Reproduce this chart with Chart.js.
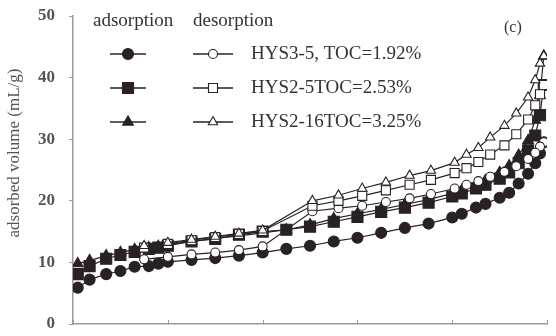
<!DOCTYPE html>
<html>
<head>
<meta charset="utf-8">
<script src="https://cdn.jsdelivr.net/npm/chart.js@4/dist/chart.umd.min.js"></script>
<style>
  html, body { margin: 0; padding: 0; background: #fff; }
</style>
</head>
<body>
<canvas id="isoChart" width="556" height="336"></canvas>
<script>
// relative pressure points (P/P0)
const adsP = [0.01, 0.035, 0.07, 0.10, 0.13, 0.16, 0.18, 0.20, 0.25, 0.30, 0.35, 0.40, 0.45, 0.50, 0.55,
              0.60, 0.65, 0.70, 0.75, 0.80, 0.82, 0.85, 0.87, 0.90, 0.92, 0.94, 0.96, 0.975, 0.985, 0.993];
const desP = [0.993, 0.985, 0.975, 0.96, 0.935, 0.91, 0.88, 0.855, 0.83, 0.805, 0.755, 0.71, 0.66, 0.61,
              0.56, 0.505, 0.40, 0.35, 0.30, 0.25, 0.20, 0.15];

// adsorbed volume (mL/g)
const adsHYS35 = [5.9, 7.2, 8.1, 8.6, 9.3, 9.4, 9.8, 10.1, 10.4, 10.7, 11.1, 11.6, 12.2, 12.7, 13.4,
                  14.0, 14.8, 15.6, 16.3, 17.3, 17.9, 18.9, 19.5, 20.5, 21.3, 22.8, 24.4, 26.1, 27.7, 29.5];
const adsHYS25 = [8.1, 9.4, 10.6, 11.2, 11.7, 12.2, 12.4, 12.7, 13.4, 13.8, 14.5, 15.0, 15.3, 15.8, 16.6,
                  17.4, 18.2, 18.9, 19.7, 20.7, 21.2, 22.0, 22.6, 23.6, 24.6, 26.1, 28.2, 30.6, 33.9, 38.8];
const adsHYS216 = [9.8, 10.3, 11.1, 11.6, 12.1, 12.4, 12.6, 12.9, 13.4, 13.9, 14.3, 14.8, 15.3, 16.1, 17.1,
                   17.9, 18.6, 19.4, 20.2, 21.2, 21.7, 22.6, 23.3, 24.6, 25.7, 27.4, 29.8, 33.1, 37.1, 43.5];

const desHYS35 = [29.5, 28.8, 27.8, 26.8, 25.6, 24.7, 23.9, 23.2, 22.6, 22.0, 21.1, 20.4, 19.8, 19.2,
                  18.8, 18.3, 12.6, 12.0, 11.6, 11.3, 10.9, 10.5];
const desHYS25 = [38.8, 37.3, 35.5, 33.2, 30.8, 29.0, 27.5, 26.3, 25.3, 24.5, 23.4, 22.6, 21.7, 20.8,
                  20.0, 19.2, 15.1, 14.6, 14.1, 13.6, 13.0, 12.4];
const desHYS216 = [43.5, 42.3, 39.6, 36.8, 34.2, 32.2, 30.3, 28.6, 27.5, 26.2, 24.9, 24.1, 23.0, 22.0,
                   20.9, 20.0, 15.2, 14.7, 14.2, 13.7, 13.2, 12.7];

const seriesNames = ['HYS3-5, TOC=1.92%', 'HYS2-5TOC=2.53%', 'HYS2-16TOC=3.25%'];
const yTicks = [0, 10, 20, 30, 40, 50];
const xTicks = [0, 0.2, 0.4, 0.6, 0.8, 1.0];
const yTitle = 'adsorbed volume (mL/g)';

const ink = '#2a2222';
const serif = '"Liberation Serif", "Times New Roman", serif';

// wanted plot box
const target = { left: 73, top: 16, right: 549, bottom: 324 };
let xAxisH = 12;
let yAxisW = 73;

function pts(xs, ys) {
    return xs.map((x, i) => ({ x: x, y: ys[i] }));
}

// marker styles: [style, filled radius, open radius]
const marks = [
    ['circle', 5.5, 4.5],
    ['rect', 7.8, 6.4],
    ['triangle', 6.2, 5.4]
];

function makeSet(label, data, mk, filled) {
    return {
        label: label,
        data: data,
        borderColor: ink,
        borderWidth: 1.2,
        pointStyle: mk[0],
        pointRadius: filled ? mk[1] : mk[2],
        pointBorderWidth: 1.1,
        pointBorderColor: ink,
        pointBackgroundColor: filled ? ink : '#ffffff',
        pointHoverRadius: filled ? mk[1] : mk[2],
        tension: 0,
        fill: false
    };
}

const datasets = [
    makeSet(seriesNames[2] + ' des', pts(desP, desHYS216), marks[2], false),
    makeSet(seriesNames[1] + ' des', pts(desP, desHYS25), marks[1], false),
    makeSet(seriesNames[0] + ' des', pts(desP, desHYS35), marks[0], false),
    makeSet(seriesNames[0] + ' ads', pts(adsP, adsHYS35), marks[0], true),
    makeSet(seriesNames[1] + ' ads', pts(adsP, adsHYS25), marks[1], true),
    makeSet(seriesNames[2] + ' ads', pts(adsP, adsHYS216), marks[2], true)
];

function drawMark(ctx, style, r, x, y, filled) {
    ctx.beginPath();
    if (style === 'circle') {
        ctx.arc(x, y, r, 0, Math.PI * 2);
    } else if (style === 'rect') {
        const s = r * Math.SQRT1_2;
        ctx.rect(x - s, y - s, 2 * s, 2 * s);
    } else {
        ctx.moveTo(x, y - r);
        ctx.lineTo(x + r * 0.866, y + r * 0.5);
        ctx.lineTo(x - r * 0.866, y + r * 0.5);
        ctx.closePath();
    }
    ctx.fillStyle = filled ? ink : '#fff';
    ctx.fill();
    ctx.lineWidth = 1.1;
    ctx.strokeStyle = ink;
    ctx.stroke();
}

const legendPlugin = {
    id: 'isoLegend',
    afterDraw(chart) {
        const ctx = chart.ctx;
        const xs = chart.scales.x;
        ctx.save();

        // x tick marks point up into the plot
        ctx.strokeStyle = '#999';
        ctx.lineWidth = 1;
        ctx.beginPath();
        xTicks.forEach(v => {
            const px = Math.round(xs.getPixelForValue(v)) + 0.5;
            ctx.moveTo(px, xs.top);
            ctx.lineTo(px, xs.top - 4);
        });
        ctx.stroke();

        ctx.fillStyle = '#333';
        ctx.textBaseline = 'middle';
        ctx.font = '19px ' + serif;
        ctx.fillText('adsorption', 93, 21);
        ctx.fillText('desorption', 193, 21);
        ctx.font = '16px ' + serif;
        ctx.fillText('(c)', 504, 28);

        const rowY = [54, 88, 122];
        for (let i = 0; i < 3; i++) {
            const y = rowY[i];
            ctx.strokeStyle = ink;
            ctx.lineWidth = 1.3;
            ctx.beginPath();
            ctx.moveTo(110, y); ctx.lineTo(146, y);
            ctx.moveTo(193, y); ctx.lineTo(233, y);
            ctx.stroke();
            drawMark(ctx, marks[i][0], marks[i][1], 128, y, true);
            drawMark(ctx, marks[i][0], marks[i][2], 213, y, false);
            ctx.fillStyle = '#333';
            ctx.font = '19px ' + serif;
            ctx.fillText(seriesNames[i], 251, y);
        }

        // y axis title
        ctx.translate(15, 153);
        ctx.rotate(-Math.PI / 2);
        ctx.textAlign = 'center';
        ctx.fillStyle = '#555';
        ctx.font = '17px ' + serif;
        ctx.fillText(yTitle, 0, 0);
        ctx.restore();
    }
};

const chart = new Chart(document.getElementById('isoChart').getContext('2d'), {
    type: 'line',
    data: { datasets: datasets },
    options: {
        responsive: false,
        animation: false,
        layout: { padding: { top: 16, right: 7, bottom: 0, left: 0 } },
        plugins: {
            legend: { display: false },
            tooltip: { enabled: false }
        },
        scales: {
            x: {
                type: 'linear',
                min: 0,
                max: 1,
                ticks: { display: false, stepSize: 0.2 },
                grid: { display: false },
                border: { display: true, color: '#999', width: 1.5 },
                afterFit(scale) {
                    scale.height = xAxisH;
                    scale.paddingLeft = 0;
                    scale.paddingRight = 0;
                }
            },
            y: {
                min: 0,
                max: 50,
                afterBuildTicks(scale) { scale.ticks = yTicks.map(v => ({ value: v })); },
                ticks: {
                    color: '#555',
                    padding: 14,
                    font: { family: serif, size: 17, weight: 'bold', lineHeight: 1 }
                },
                grid: { drawOnChartArea: false, drawTicks: true, tickLength: 4, color: '#999' },
                border: { display: true, color: '#999', width: 1.5 },
                afterFit(scale) {
                    scale.width = yAxisW;
                    scale.paddingTop = 0;
                    scale.paddingBottom = 0;
                }
            }
        }
    },
    plugins: [legendPlugin]
});

// nudge the layout so the plot box lands where the reference has it
const ca = chart.chartArea;
const pad = chart.options.layout.padding;
pad.top += target.top - ca.top;
pad.right += ca.right - target.right;
xAxisH += ca.bottom - target.bottom;
yAxisW += target.left - ca.left;
chart.update();
</script>
</body>
</html>
